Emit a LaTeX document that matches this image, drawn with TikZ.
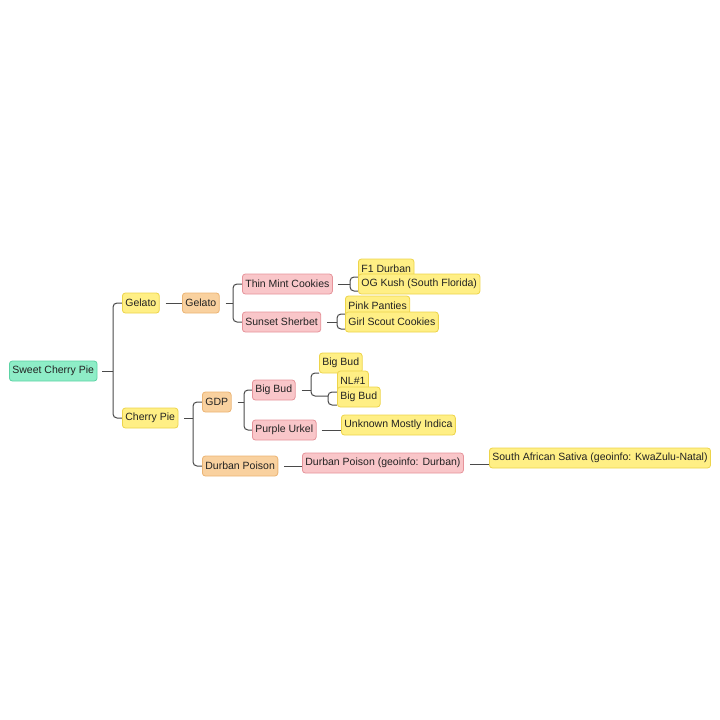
\documentclass[tikz,border=0pt]{standalone}
\usepackage{fontspec}
\setmainfont{Liberation Sans}
\usetikzlibrary{backgrounds}
\definecolor{mintfill}{HTML}{8EEDC7}
\definecolor{mintline}{HTML}{5CD3A4}
\definecolor{yelfill}{HTML}{FFEF85}
\definecolor{yelline}{HTML}{EDD44A}
\definecolor{orafill}{HTML}{F9D19F}
\definecolor{oraline}{HTML}{EBB474}
\definecolor{pinkfill}{HTML}{F9C6C9}
\definecolor{pinkline}{HTML}{E6949B}
\definecolor{linkgray}{HTML}{4A4A4A}
\definecolor{txt}{HTML}{222222}
\begin{document}
\begin{tikzpicture}[x=1pt,y=-1pt,font=\fontsize{10.5}{12}\selectfont,
  box/.style={draw,rounded corners=3pt,line width=0.8pt,anchor=west,minimum height=20pt,inner xsep=3pt,inner ysep=2pt,text=txt},
  rootbox/.style={box,fill=mintfill,draw=mintline},
  yel/.style={box,fill=yelfill,draw=yelline},
  ora/.style={box,fill=orafill,draw=oraline},
  pnk/.style={box,fill=pinkfill,draw=pinkline},
  link/.style={draw=linkgray,line width=1pt,rounded corners=4pt}]
  \useasboundingbox (0,0) rectangle (720,720);
  \node[rootbox] (root) at (9,371){Sweet Cherry Pie};
  \node[yel] (gel1) at (122,303){Gelato};
  \node[yel] (cp) at (122,418){Cherry Pie};
  \node[ora] (gel2) at (182,303){Gelato};
  \node[pnk] (tmc) at (242,284){Thin Mint Cookies};
  \node[pnk] (ss) at (242,322){Sunset Sherbet};
  \node[yel] (f1) at (358,269){F1 Durban};
  \node[yel] (og) at (358,284){OG Kush (South Florida)};
  \node[yel] (pp) at (345,306){Pink Panties};
  \node[yel] (gsc) at (345,322){Girl Scout Cookies};
  \node[ora] (gdp) at (202,402){GDP};
  \node[ora] (dp) at (202,466){Durban Poison};
  \node[pnk] (bb) at (252,390){Big Bud};
  \node[pnk] (pu) at (252,430){Purple Urkel};
  \node[yel] (bb1) at (319,363){Big Bud};
  \node[yel] (nl) at (337,381){NL\#1};
  \node[yel] (bb2) at (337,397){Big Bud};
  \node[yel] (umi) at (341,425){Unknown Mostly Indica};
  \node[pnk] (dpg) at (302,463){Durban Poison (geoinfo: Durban)};
  \node[yel] (sas) at (489,458){South African Sativa (geoinfo: KwaZulu-Natal)};
  \begin{scope}[on background layer]
    % root
    \draw[link] ([xshift=5pt]root.east) -- (113,371) coordinate (j0);
    \draw[link] (j0) |- (gel1.west);
    \draw[link] (j0) |- (cp.west);
    \draw[link] ([xshift=6pt]gel1.east) -- (gel2.west);
    % gelato branch
    \draw[link] ([xshift=6pt]gel2.east) -- (233,303) coordinate (j1);
    \draw[link] (j1) |- (tmc.west);
    \draw[link] (j1) |- (ss.west);
    \draw[link] ([xshift=5pt]tmc.east) -- (350,284) coordinate (j2);
    \draw[link] (j2) |- ([yshift=-8pt]f1.west);
    \draw[link] (j2) |- ([yshift=-7pt]og.west);
    \draw[link] ([xshift=6pt]ss.east) -- (337,322) coordinate (j3);
    \draw[link] (j3) |- ([yshift=-8pt]pp.west);
    \draw[link] (j3) |- ([yshift=-7pt]gsc.west);
    % cherry pie branch
    \draw[link] ([xshift=6pt]cp.east) -- (193,418) coordinate (j4);
    \draw[link] (j4) |- (gdp.west);
    \draw[link] (j4) |- (dp.west);
    \draw[link] ([xshift=6pt]gdp.east) -- (244,402) coordinate (j5);
    \draw[link] (j5) |- (bb.west);
    \draw[link] (j5) |- (pu.west);
    \draw[link] ([xshift=6pt]bb.east) -- (311,390) coordinate (j6);
    \draw[link] (j6) |- ([yshift=-10pt]bb1.west);
    \draw[link] (j6) |- (328,396) coordinate (j7);
    \draw[link] (j7) |- ([yshift=-11pt]nl.west);
    \draw[link] (j7) |- ([yshift=-8pt]bb2.west);
    \draw[link] ([xshift=5pt]pu.east) -- (pu.east -| umi.west);
    \draw[link] ([xshift=6pt]dp.east) -- (dp.east -| dpg.west);
    \draw[link] ([xshift=6pt,yshift=-1pt]dpg.east) -- ([yshift=-1pt]dpg.east -| sas.west);
  \end{scope}
\end{tikzpicture}
\end{document}
